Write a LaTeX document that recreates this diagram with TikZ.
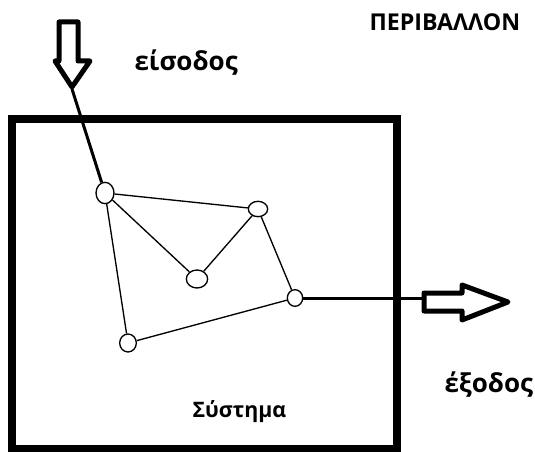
\documentclass[tikz,border=0pt]{standalone}
\usepackage{fontspec}
\setmainfont{Open Sans}
\usetikzlibrary{shapes.geometric}

\tikzset{every picture/.style={line width=0.75pt}}
\tikzset{
  state/.style={draw, ellipse, inner sep=0pt, line width=1pt, fill=white},
  link/.style={line width=1pt},
  flow/.style={line width=2.25pt},
  bigarrow/.style={line width=3.75pt, line join=round, fill=white},
  label/.style={inner sep=0.75pt, font=\bfseries\fontsize{16}{19}\selectfont},
  biglabel/.style={inner sep=0.75pt, font=\bfseries\fontsize{19.5}{23}\selectfont}
}

\begin{document}
\begin{tikzpicture}[x=0.75pt,y=0.75pt,yscale=-1,xscale=1]
\useasboundingbox (0,0) rectangle (535,452);

%System box
\draw [line width=6pt] (12,119) rectangle (397,449) ;

%Input arrow
\draw [bigarrow] (59,22) -- (78,22) -- (78,61) -- (90,61) -- (72,87) -- (55,61) -- (59,61) -- cycle ;
\coordinate (intip) at (72,89) ;

%Output arrow
\draw [bigarrow] (424,293) -- (462,293) -- (462,285) -- (508,302) -- (462,320) -- (462,311) -- (424,311) -- cycle ;
\coordinate (outtail) at (423,298) ;

%States
\node [state, minimum width=13.5pt, minimum height=16pt] (sa) at (105,193) {};
\node [state, minimum width=14.5pt, minimum height=11.5pt] (sb) at (258,209) {};
\node [state, minimum width=16pt, minimum height=13.5pt] (sc) at (197,279) {};
\node [state, minimum width=11.5pt, minimum height=12.5pt] (sd) at (295,298) {};
\node [state, minimum width=12.5pt, minimum height=13.5pt] (se) at (128,343) {};

%Links
\draw [link] (sa) -- (sb) ;
\draw [link] (sa) -- (sc) ;
\draw [link] (sc) -- (sb) ;
\draw [link] (sb) -- (sd) ;
\draw [link] (sa) -- (se) ;
\draw [link] (se) -- (sd) ;

%Flows
\draw [flow] (intip) -- (sa) ;
\draw [flow] (sd) -- (outtail) ;

% Text Node
\draw (368,22) node [anchor=west][label, font=\bfseries\fontsize{17.4}{21}\selectfont] (env) {ΠΕΡΙΒΑΛΛΟΝ};
% Text Node
\draw (133,63) node [anchor=west][biglabel] (inlbl) {είσοδος};
% Text Node
\draw (443,385) node [anchor=west][biglabel] (outlbl) {έξοδος};
% Text Node
\draw (191,412) node [anchor=west][label] (syslbl) {Σύστημα};

\end{tikzpicture}
\end{document}
